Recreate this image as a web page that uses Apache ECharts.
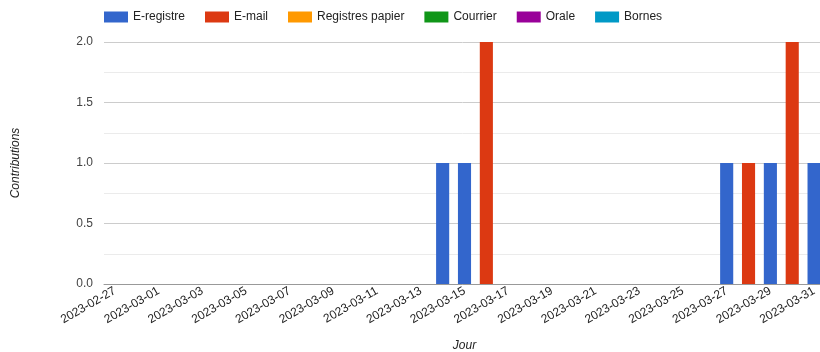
<!DOCTYPE html>
<html>
<head>
<meta charset="utf-8">
<script src="https://cdn.jsdelivr.net/npm/echarts@6/dist/echarts.min.js"></script>
<style>
  html, body { margin: 0; padding: 0; background: #fff; }
  #chart { width: 820px; height: 352px; }
</style>
</head>
<body>
<div id="chart"></div>
<script>
// jours (axe x)
const days = [
  '2023-02-27', '2023-02-28', '2023-03-01', '2023-03-02', '2023-03-03', '2023-03-04',
  '2023-03-05', '2023-03-06', '2023-03-07', '2023-03-08', '2023-03-09', '2023-03-10',
  '2023-03-11', '2023-03-12', '2023-03-13', '2023-03-14', '2023-03-15', '2023-03-16',
  '2023-03-17', '2023-03-18', '2023-03-19', '2023-03-20', '2023-03-21', '2023-03-22',
  '2023-03-23', '2023-03-24', '2023-03-25', '2023-03-26', '2023-03-27', '2023-03-28',
  '2023-03-29', '2023-03-30', '2023-03-31'
]

// contributions par canal
const eRegistre = [0,0,0,0,0,0,0,0,0,0,0,0,0,0,0,1,1,0,0,0,0,0,0,0,0,0,0,0,1,0,1,0,1]
const eMail     = [0,0,0,0,0,0,0,0,0,0,0,0,0,0,0,0,0,2,0,0,0,0,0,0,0,0,0,0,0,1,0,2,0]
const papier    = [0,0,0,0,0,0,0,0,0,0,0,0,0,0,0,0,0,0,0,0,0,0,0,0,0,0,0,0,0,0,0,0,0]
const courrier  = [0,0,0,0,0,0,0,0,0,0,0,0,0,0,0,0,0,0,0,0,0,0,0,0,0,0,0,0,0,0,0,0,0]
const orale     = [0,0,0,0,0,0,0,0,0,0,0,0,0,0,0,0,0,0,0,0,0,0,0,0,0,0,0,0,0,0,0,0,0]
const bornes    = [0,0,0,0,0,0,0,0,0,0,0,0,0,0,0,0,0,0,0,0,0,0,0,0,0,0,0,0,0,0,0,0,0]

const seriesNames = ['E-registre', 'E-mail', 'Registres papier', 'Courrier', 'Orale', 'Bornes']
const seriesData = [eRegistre, eMail, papier, courrier, orale, bornes]
const colors = ['#3366cc', '#dc3912', '#ff9900', '#109618', '#990099', '#0099c6']
const yTicks = [0, 0.5, 1.0, 1.5, 2.0]

const chart = echarts.init(document.getElementById('chart'))

const option = {
  animation: false,
  color: colors,
  textStyle: {fontFamily: 'Arial, "Liberation Sans", sans-serif'},
  legend: {
    left: 99,
    top: 6,
    itemWidth: 24,
    itemHeight: 11,
    itemGap: 20,
    icon: 'rect',
    textStyle: {fontSize: 12, color: '#222'},
    data: seriesNames
  },
  grid: {left: 104, right: -5, top: 42, bottom: 68, containLabel: false, outerBoundsMode: 'none'},
  xAxis: {
    type: 'category',
    data: days,
    name: 'Jour',
    nameLocation: 'middle',
    nameGap: 56,
    nameTextStyle: {fontStyle: 'italic', fontSize: 12, color: '#222'},
    axisLine: {lineStyle: {color: '#999'}},
    axisTick: {show: false},
    axisLabel: {interval: 1, rotate: 30, fontSize: 12, color: '#222', margin: 6}
  },
  yAxis: {
    type: 'value',
    min: yTicks[0],
    max: yTicks[yTicks.length - 1],
    interval: 0.5,
    name: 'Contributions',
    nameLocation: 'middle',
    nameGap: 82,
    nameTextStyle: {fontStyle: 'italic', fontSize: 12, color: '#222'},
    axisLine: {show: false},
    axisTick: {show: false},
    axisLabel: {fontSize: 12, color: '#444', margin: 11, formatter: v => v.toFixed(1)},
    splitLine: {lineStyle: {color: '#cccccc'}},
    minorTick: {show: false, splitNumber: 2},
    minorSplitLine: {show: true, lineStyle: {color: '#ebebeb'}}
  },
  series: seriesNames.map((name, i) => ({
    name: name,
    type: 'bar',
    stack: 'total',
    barCategoryGap: '40%',
    data: seriesData[i]
  }))
}

chart.setOption(option)
</script>
</body>
</html>
